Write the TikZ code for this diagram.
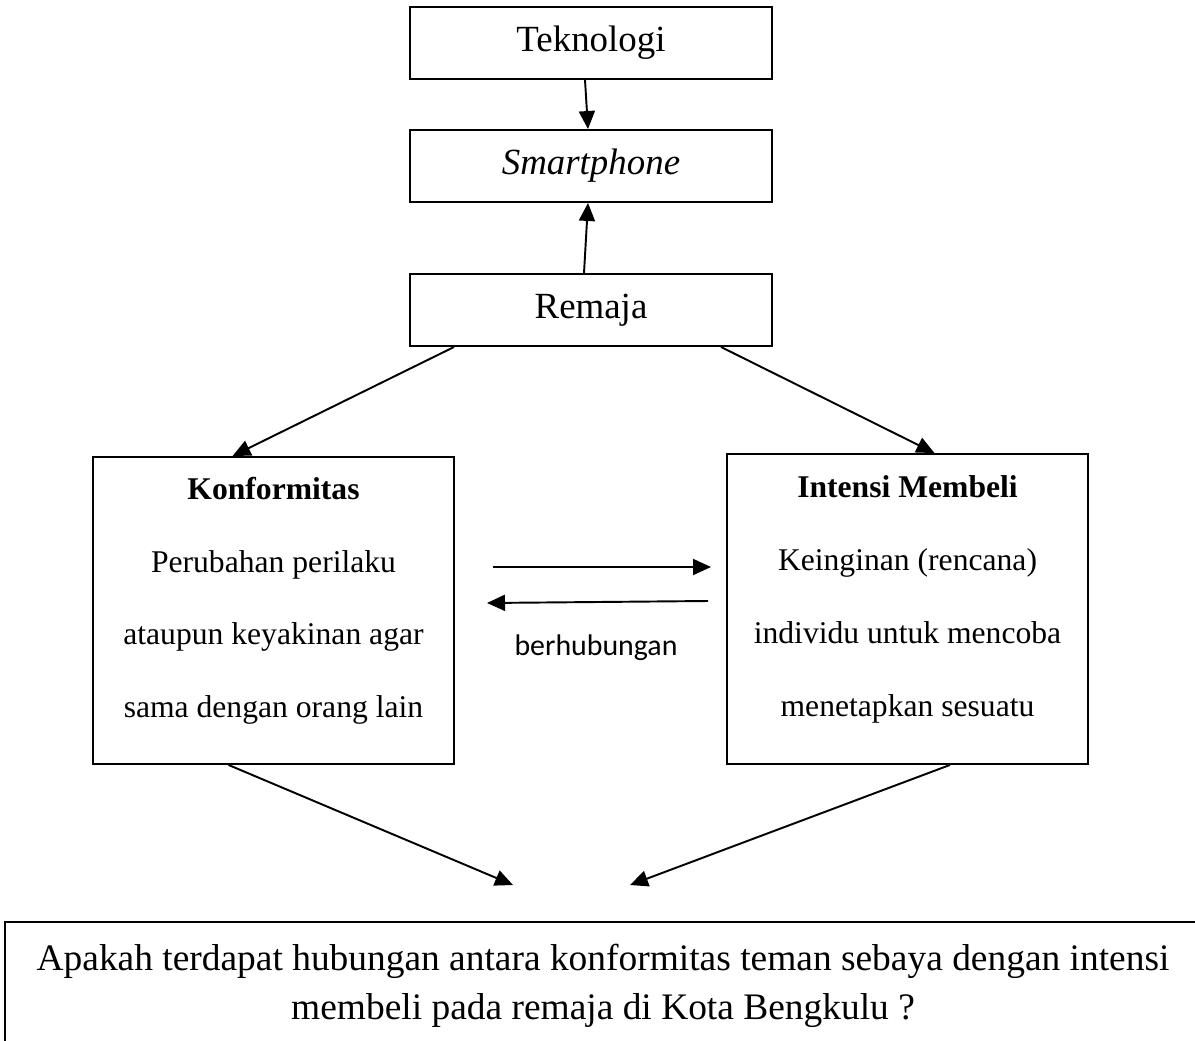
\documentclass[tikz,border=0pt]{standalone}
\usepackage{fontspec}
\setmainfont{Liberation Serif}
\newfontfamily\calibrifont{Carlito}
\usetikzlibrary{arrows.meta}

\begin{document}
\begin{tikzpicture}[x=0.02cm, y=-0.02cm,
        kotak/.style={draw, line width=1.1pt, inner sep=0pt, minimum width=7.24cm, minimum height=1.44cm, font=\fontsize{21}{25}\selectfont},
        kotakbesar/.style={draw, line width=1.1pt, inner sep=0pt, minimum width=7.22cm, align=center, font=\fontsize{18}{41.5}\selectfont},
        panah/.style={line width=1.1pt, -{Triangle[length=0.36cm, width=0.32cm]}}]
        % Batas gambar
        \clip (0,0) rectangle (1195,1040);

        % Kotak atas
        \node[kotak] (tek) at (591,43) {Teknologi};
        \node[kotak] (smart) at (591,166) {\textit{Smartphone}};
        \node[kotak] (rem) at (591,310) {Remaja};

        % Kotak variabel
        \node[kotakbesar, minimum height=6.14cm] (kon) at (273.5,610.5)
            {\textbf{Konformitas}\\Perubahan perilaku\\ataupun keyakinan agar\\sama dengan orang lain\rule[-15pt]{0pt}{1pt}};
        \node[kotakbesar, minimum height=6.2cm] (int) at (907.5,609)
            {\textbf{Intensi Membeli}\\Keinginan (rencana)\\individu untuk mencoba\\menetapkan sesuatu\rule[-15pt]{0pt}{1pt}};

        % Kotak pertanyaan (terpotong di kanan dan bawah)
        \node[draw, line width=1.3pt, minimum width=23.92cm, minimum height=2.56cm, align=center,
              font=\fontsize{21.3}{28}\selectfont] (tanya) at (603,986)
            {Apakah terdapat hubungan antara konformitas teman sebaya dengan intensi\\membeli pada remaja di Kota Bengkulu ?};

        % Panah atas
        \draw[panah] ([xshift=-0.12cm]tek.south) -- ([xshift=-0.06cm]smart.north);
        \draw[panah] ([xshift=-0.14cm]rem.north) -- ([xshift=-0.06cm]smart.south);

        % Panah dari remaja
        \draw[panah] ([xshift=0.9cm]rem.south west) -- ([xshift=-0.82cm]kon.north);
        \draw[panah] ([xshift=-1.04cm]rem.south east) -- ([xshift=0.54cm]int.north);

        % Panah berhubungan
        \coordinate (hubA) at (493,567);
        \coordinate (hubB) at (711,567);
        \coordinate (hubC) at (708,601);
        \coordinate (hubD) at (487,603);
        \draw[panah] (hubA) -- (hubB);
        \draw[panah] (hubC) -- (hubD);
        \node[font=\calibrifont\fontsize{17}{20}\selectfont] (hub) at (596,648) {berhubungan};

        % Panah ke pertanyaan
        \coordinate (ujungKiri) at (513,885);
        \coordinate (ujungKanan) at (630,885);
        \draw[panah] ([xshift=-0.9cm]kon.south) -- (ujungKiri);
        \draw[panah] ([xshift=0.85cm]int.south) -- (ujungKanan);
    \end{tikzpicture}
\end{document}
